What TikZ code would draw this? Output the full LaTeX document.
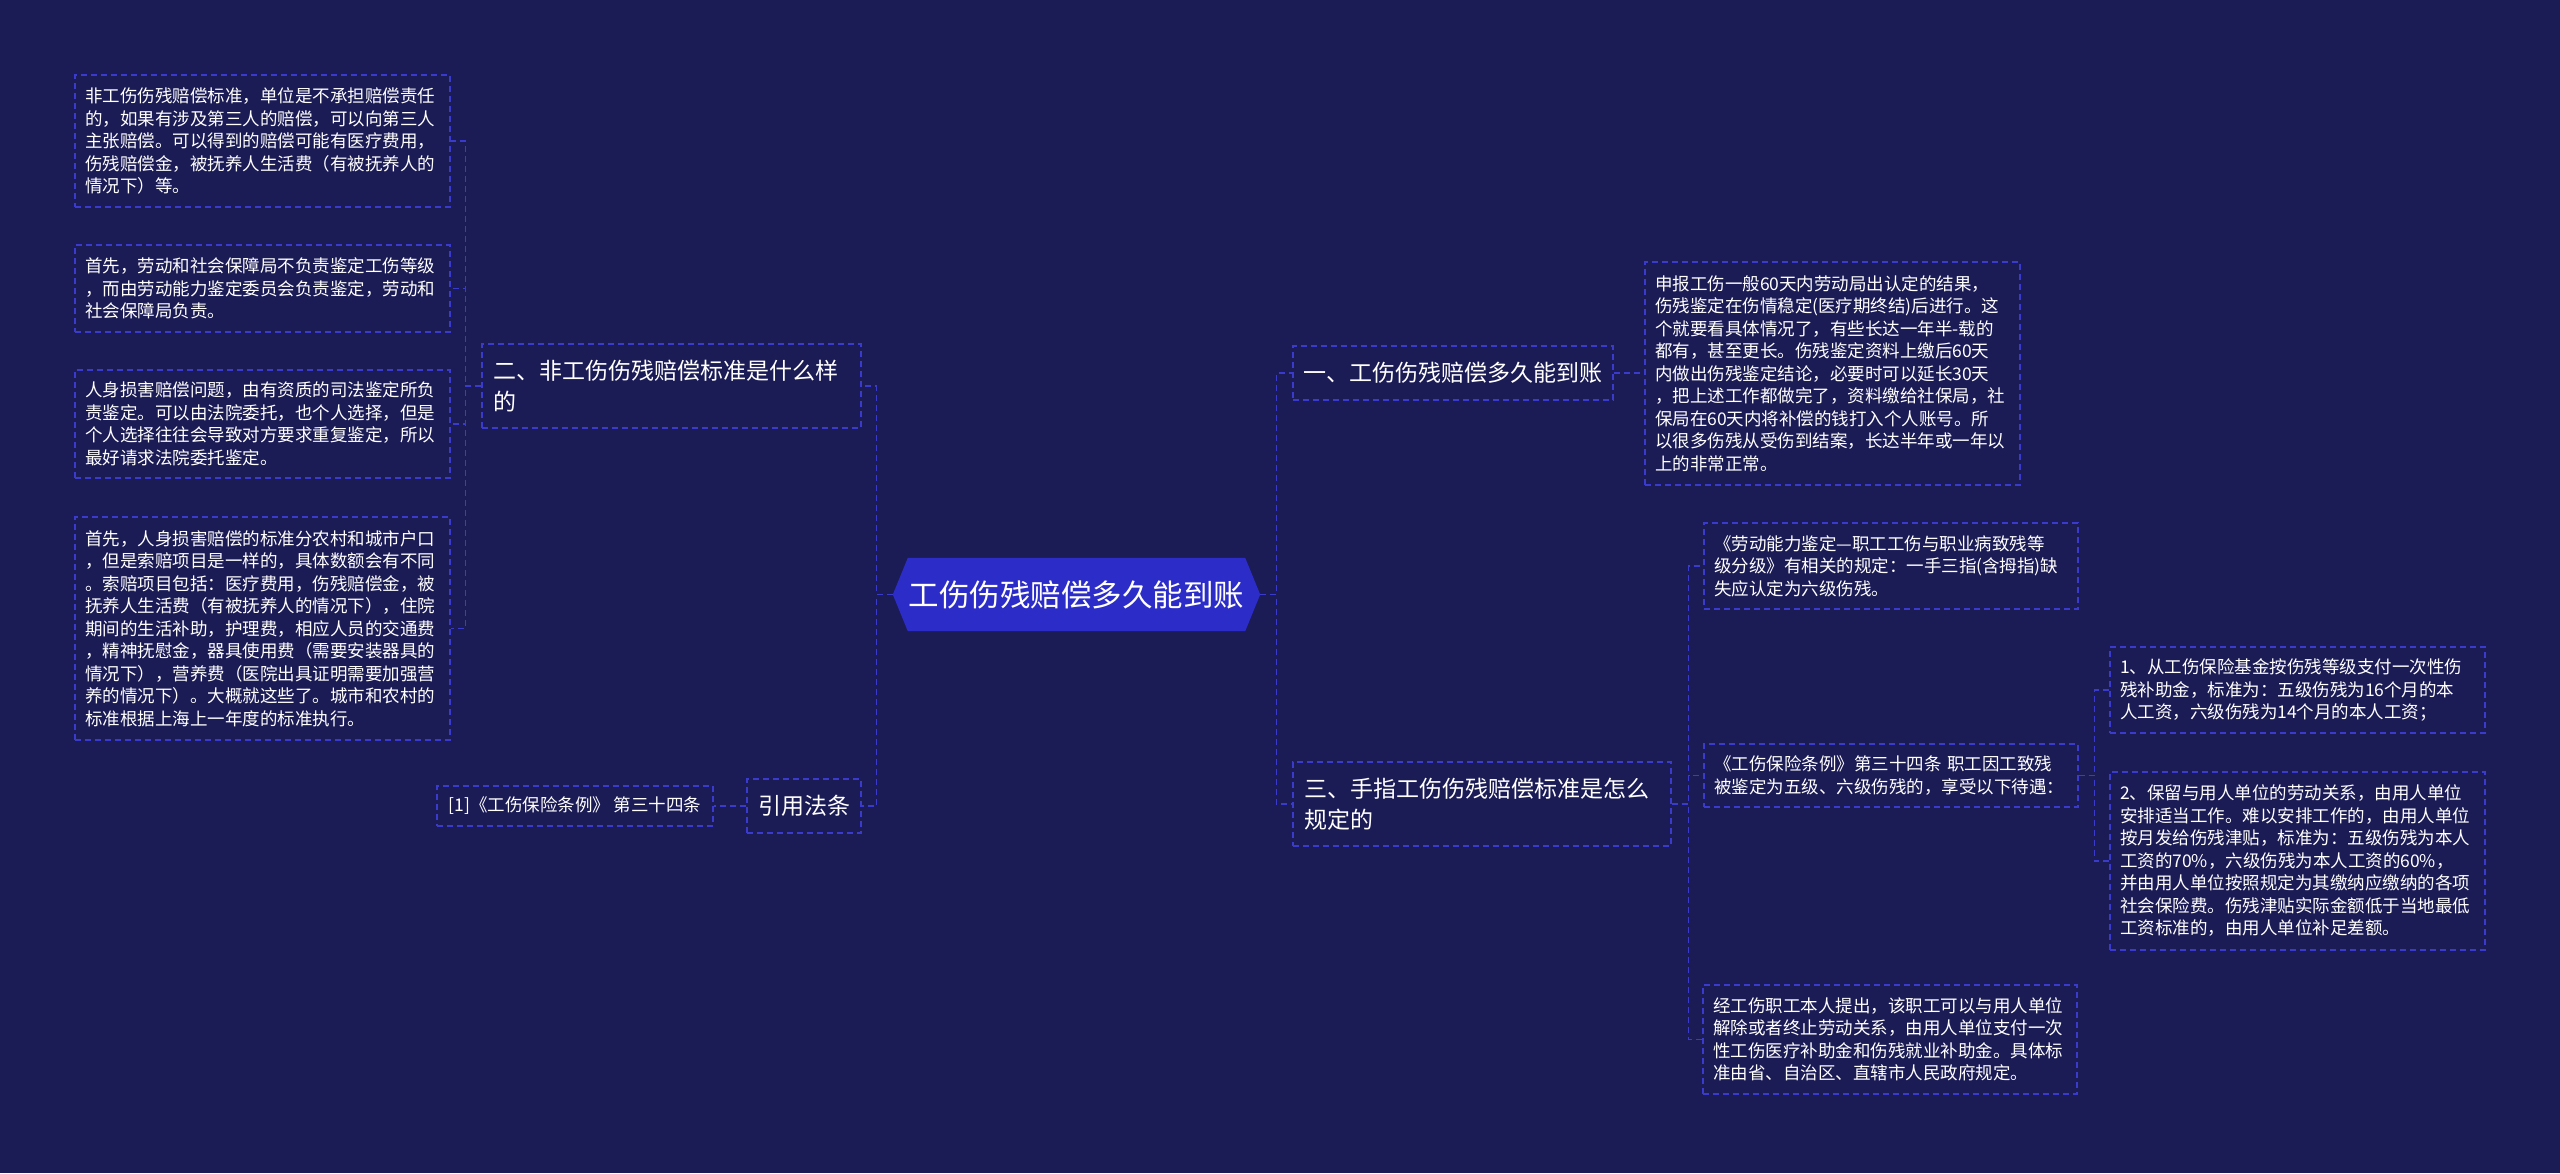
\documentclass[tikz,border=0pt]{standalone}
\usepackage{fontspec}
\setmainfont{Noto Sans CJK SC}
\usetikzlibrary{backgrounds}
\definecolor{bgc}{RGB}{27,27,86}
\definecolor{lnc}{RGB}{58,58,205}
\definecolor{ctrc}{RGB}{44,44,200}
\tikzset{
  boxbase/.style={draw=lnc, line width=1.3pt, dash pattern=on 6pt off 4pt, text=white, align=left, inner xsep=0pt, inner ysep=0pt, anchor=center},
  leafbox/.style={boxbase, font=\fontsize{17.5}{22.5}\selectfont},
  branchbox/.style={boxbase, font=\fontsize{23}{31.5}\selectfont},
  link/.style={draw=lnc, line width=1.3pt, dash pattern=on 6pt off 4pt}
}
\begin{document}
\begin{tikzpicture}[x=1pt,y=-1pt]
\useasboundingbox (0,0) rectangle (2560,1173);

% centre
\node[text=white, font=\fontsize{30.5}{36}\selectfont, minimum width=367pt, minimum height=73pt, inner sep=0pt] (c) at (1076.5,594.5) {工伤伤残赔偿多久能到账};

\begin{pgfonlayer}{background}
\fill[bgc] (0,0) rectangle (2560,1173);
\fill[ctrc] (c.west) -- ([xshift=15pt]c.north west) -- ([xshift=-15pt]c.north east) -- (c.east) -- ([xshift=-15pt]c.south east) -- ([xshift=15pt]c.south west) -- cycle;
\end{pgfonlayer}

% left side
\node[branchbox, minimum width=379pt, minimum height=84pt, text width=357pt] (b2) at (671.5,386) {二、非工伤伤残赔偿标准是什么样\\的};

\node[leafbox, minimum width=375pt, minimum height=132pt, text width=355pt] (l1) at (262.5,141) {非工伤伤残赔偿标准，单位是不承担赔偿责任\\的，如果有涉及第三人的赔偿，可以向第三人\\主张赔偿。可以得到的赔偿可能有医疗费用，\\伤残赔偿金，被抚养人生活费（有被抚养人的\\情况下）等。};

\node[leafbox, minimum width=375pt, minimum height=87pt, text width=355pt] (l2) at (262.5,288.5) {首先，劳动和社会保障局不负责鉴定工伤等级\\，而由劳动能力鉴定委员会负责鉴定，劳动和\\社会保障局负责。};

\node[leafbox, minimum width=375pt, minimum height=108pt, text width=355pt] (l3) at (262.5,424) {人身损害赔偿问题，由有资质的司法鉴定所负\\责鉴定。可以由法院委托，也个人选择，但是\\个人选择往往会导致对方要求重复鉴定，所以\\最好请求法院委托鉴定。};

\node[leafbox, minimum width=375pt, minimum height=223pt, text width=355pt] (l4) at (262.5,628.5) {首先，人身损害赔偿的标准分农村和城市户口\\，但是索赔项目是一样的，具体数额会有不同\\。索赔项目包括：医疗费用，伤残赔偿金，被\\抚养人生活费（有被抚养人的情况下），住院\\期间的生活补助，护理费，相应人员的交通费\\，精神抚慰金，器具使用费（需要安装器具的\\情况下），营养费（医院出具证明需要加强营\\养的情况下）。大概就这些了。城市和农村的\\标准根据上海上一年度的标准执行。};

\node[branchbox, align=center, minimum width=114pt, minimum height=54pt] (r0) at (804,806) {引用法条};
\node[leafbox, align=center, minimum width=276pt, minimum height=40pt] (ref) at (575,806) {[1]《工伤保险条例》 第三十四条};

% right side
\node[branchbox, align=center, minimum width=320pt, minimum height=54pt] (b1) at (1453,373) {一、工伤伤残赔偿多久能到账};

\node[leafbox, minimum width=375pt, minimum height=223pt, text width=355pt] (r1) at (1832.5,373.5) {申报工伤一般60天内劳动局出认定的结果，\\伤残鉴定在伤情稳定(医疗期终结)后进行。这\\个就要看具体情况了，有些长达一年半-载的\\都有，甚至更长。伤残鉴定资料上缴后60天\\内做出伤残鉴定结论，必要时可以延长30天\\，把上述工作都做完了，资料缴给社保局，社\\保局在60天内将补偿的钱打入个人账号。所\\以很多伤残从受伤到结案，长达半年或一年以\\上的非常正常。};

\node[branchbox, minimum width=378pt, minimum height=84pt, text width=356pt] (b3) at (1482,804) {三、手指工伤伤残赔偿标准是怎么\\规定的};

\node[leafbox, minimum width=374pt, minimum height=86pt, text width=354pt] (ra) at (1891,566) {《劳动能力鉴定—职工工伤与职业病致残等\\级分级》有相关的规定：一手三指(含拇指)缺\\失应认定为六级伤残。};

\node[leafbox, minimum width=374pt, minimum height=63pt, text width=354pt] (rb) at (1891,775.5) {《工伤保险条例》第三十四条 职工因工致残\\被鉴定为五级、六级伤残的，享受以下待遇：};

\node[leafbox, minimum width=374pt, minimum height=109pt, text width=354pt] (rc) at (1890,1039.5) {经工伤职工本人提出，该职工可以与用人单位\\解除或者终止劳动关系，由用人单位支付一次\\性工伤医疗补助金和伤残就业补助金。具体标\\准由省、自治区、直辖市人民政府规定。};

\node[leafbox, minimum width=375pt, minimum height=86pt, text width=355pt] (d1) at (2297.5,690) {1、从工伤保险基金按伤残等级支付一次性伤\\残补助金，标准为：五级伤残为16个月的本\\人工资，六级伤残为14个月的本人工资；};

\node[leafbox, minimum width=375pt, minimum height=178pt, text width=355pt] (d2) at (2297.5,861) {2、保留与用人单位的劳动关系，由用人单位\\安排适当工作。难以安排工作的，由用人单位\\按月发给伤残津贴，标准为：五级伤残为本人\\工资的70\%，六级伤残为本人工资的60\%，\\并由用人单位按照规定为其缴纳应缴纳的各项\\社会保险费。伤残津贴实际金额低于当地最低\\工资标准的，由用人单位补足差额。};

% connectors
\foreach \n in {l1,l2,l3,l4} \draw[link] (b2.west) -- ++(-16,0) |- (\n.east);
\foreach \n in {b2,r0} \draw[link] (c.west) -- ++(-16,0) |- (\n.east);
\draw[link] (r0.west) -- (ref.east);
\foreach \n in {b1,b3} \draw[link] (c.east) -- ++(16,0) |- (\n.west);
\draw[link] (b1.east) -- (b1.east -| r1.west);
\foreach \n in {ra,rb,rc} \draw[link] (b3.east) -- ++(17,0) |- (\n.west);
\foreach \n in {d1,d2} \draw[link] (rb.east) -- ++(16,0) |- (\n.west);
\end{tikzpicture}
\end{document}
